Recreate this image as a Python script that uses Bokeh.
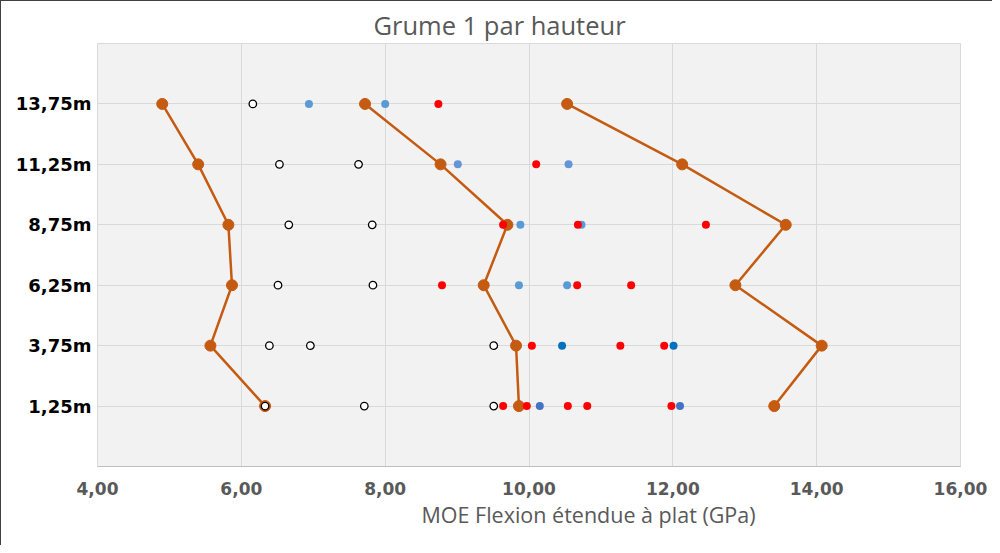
from bokeh.plotting import figure
from bokeh.models import FixedTicker, Range1d, Title
from bokeh.embed import file_html
from bokeh.resources import INLINE

# Heights (categories) and labels
heights = [1.25, 3.75, 6.25, 8.75, 11.25, 13.75]
height_labels = ["1,25m", "3,75m", "6,25m", "8,75m", "11,25m", "13,75m"]
x_ticks = [4, 6, 8, 10, 12, 14, 16]
x_tick_labels = ["4,00", "6,00", "8,00", "10,00", "12,00", "14,00", "16,00"]

# Orange lines (min / middle / max per height)
min_line = [6.33, 5.57, 5.87, 5.82, 5.40, 4.90]
mid_line = [9.86, 9.82, 9.37, 9.70, 8.77, 7.72]
max_line = [13.41, 14.07, 12.87, 13.57, 12.13, 10.53]

# Open (white) points
white_x = [6.33, 7.71, 9.51, 6.39, 6.96, 9.51, 6.51, 7.83, 6.66, 7.82, 6.53, 7.63, 6.16]
white_h = [1.25, 1.25, 1.25, 3.75, 3.75, 3.75, 6.25, 6.25, 8.75, 8.75, 11.25, 11.25, 13.75]

# Blue points
blue_x = [10.15, 12.10, 10.46, 12.01, 9.86, 10.53, 9.88, 10.73, 9.01, 10.55, 6.94, 8.00]
blue_h = [1.25, 1.25, 3.75, 3.75, 6.25, 6.25, 8.75, 8.75, 11.25, 11.25, 13.75, 13.75]
blue_c = ["#4472C4", "#4472C4", "#0070C0", "#0070C0", "#5B9BD5", "#5B9BD5",
          "#5B9BD5", "#5B9BD5", "#6495D6", "#6495D6", "#5B9BD5", "#5B9BD5"]

# Red points
red_x = [9.64, 9.97, 10.54, 10.81, 11.98, 10.04, 11.27, 11.88, 8.79, 10.67, 11.42,
         9.64, 10.68, 12.46, 10.10, 8.74]
red_h = [1.25, 1.25, 1.25, 1.25, 1.25, 3.75, 3.75, 3.75, 6.25, 6.25, 6.25,
         8.75, 8.75, 8.75, 11.25, 13.75]

title_text = "Grume 1 par hauteur"
x_title = "MOE Flexion étendue à plat (GPa)"

ORANGE = "#C55A11"
FONT = "DejaVu Sans"

p = figure(width=992, height=545, output_backend="svg", toolbar_location=None,
           x_range=Range1d(4, 16), y_range=Range1d(-1.25, 16.25),
           min_border_left=96, min_border_right=33, min_border_top=42,
           min_border_bottom=80)
p.styles = {"border-top": "1.5px solid #404040", "border-left": "1.5px solid #404040"}
p.background_fill_color = "#F2F2F2"
p.border_fill_color = "white"
p.outline_line_color = "#D9D9D9"
p.outline_line_width = 1

p.xgrid.ticker = FixedTicker(ticks=x_ticks)
p.ygrid.ticker = FixedTicker(ticks=heights)
p.xgrid.grid_line_color = "#D9D9D9"
p.ygrid.grid_line_color = "#D9D9D9"
p.xgrid.grid_line_width = 1
p.ygrid.grid_line_width = 1

p.xaxis.ticker = FixedTicker(ticks=x_ticks)
p.xaxis.major_label_overrides = {t: l for t, l in zip(x_ticks, x_tick_labels)}
p.yaxis.ticker = FixedTicker(ticks=heights)
p.yaxis.major_label_overrides = {t: l for t, l in zip(heights, height_labels)}

for ax in (p.xaxis[0], p.yaxis[0]):
    ax.major_tick_line_color = None
    ax.minor_tick_line_color = None
    ax.major_label_text_font = FONT
    ax.major_label_text_font_style = "bold"
p.xaxis.major_label_text_font_size = "17px"
p.yaxis.major_label_text_font_size = "18px"
p.xaxis.axis_line_color = "#BFBFBF"
p.yaxis.axis_line_color = None
p.xaxis.major_label_text_color = "#595959"
p.yaxis.major_label_text_color = "#000000"
p.xaxis.major_label_standoff = 9
p.yaxis.major_label_standoff = 0

for xs in (min_line, mid_line, max_line):
    p.line(xs, heights, line_color=ORANGE, line_width=2.5)
    p.scatter(xs, heights, size=11, fill_color=ORANGE, line_color=ORANGE)

p.scatter(blue_x, blue_h, size=8, fill_color=blue_c, line_color=None)
p.scatter(red_x, red_h, size=8, fill_color="#FF0000", line_color=None)
p.scatter(white_x, white_h, size=7.5, fill_color="white", line_color="black",
          line_width=1.3)

p.add_layout(Title(text=title_text, align="left", offset=276, standoff=4,
                   text_font="Open Sans", text_font_size="25.5px",
                   text_font_style="normal", text_color="#595959"), "above")
# invisible spacer between the tick labels and the axis title
p.add_layout(Title(text=".", standoff=18, text_font_size="10px", text_alpha=0), "below")
p.add_layout(Title(text=x_title, align="left", offset=324, standoff=0,
                   text_font="Open Sans", text_font_size="21.5px",
                   text_font_style="normal", text_color="#595959"), "below")

open("out.html", "w").write(file_html(p, INLINE))
